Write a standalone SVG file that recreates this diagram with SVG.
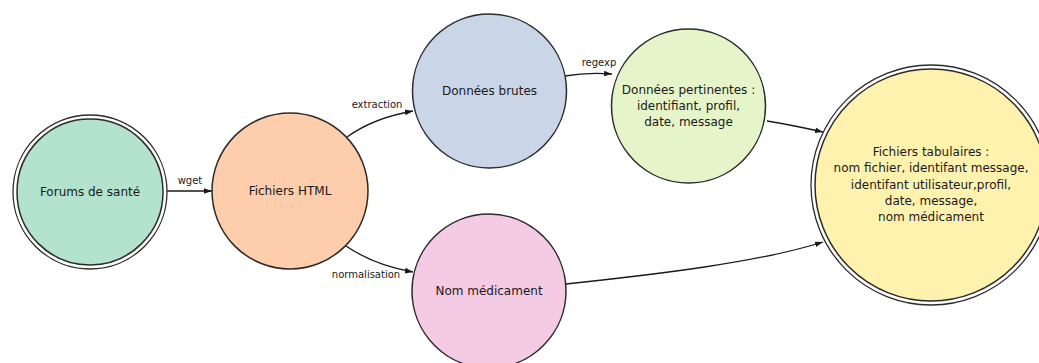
<svg xmlns="http://www.w3.org/2000/svg" width="1039" height="363" viewBox="0 0 1039 363">
<style>
.n{stroke:#2b2b2b;stroke-width:1.5}
.o{fill:none;stroke:#2b2b2b;stroke-width:1.3}
.t{font-family:"DejaVu Sans",sans-serif;font-size:12px;fill:#1a1a1a;text-anchor:middle}
.l{font-family:"DejaVu Sans",sans-serif;font-size:10px;fill:#1a1a1a;text-anchor:middle}
.e{fill:none;stroke:#1a1a1a;stroke-width:1.3;marker-end:url(#a)}
</style>
<defs>
<marker id="a" viewBox="0 0 10 10" refX="10" refY="5" markerWidth="8" markerHeight="8" markerUnits="userSpaceOnUse" orient="auto">
<path d="M0,1.5 L10,5 L0,8.5 Z" fill="#1a1a1a"/>
</marker>
</defs>
<g id="connectors">
<path class="e" d="M167,191 L212,191"/>
<text class="l" x="190" y="184">wget</text>
<path class="e" d="M347,137 C368,122 390,115 413,111"/>
<text class="l" x="377" y="108">extraction</text>
<path class="e" d="M565,76 C582,73 598,73 612,74"/>
<text class="l" x="599" y="66">regexp</text>
<path class="e" d="M346,246 C368,261 390,268 413,272"/>
<text class="l" x="366" y="278">normalisation</text>
<path class="e" d="M767,121 C786,124 805,128 823,132"/>
<path class="e" d="M566,284 C660,274 760,262 823,242"/>
</g>
<g id="forums">
<circle class="o" cx="90" cy="192" r="77"/>
<circle class="n" cx="90" cy="192" r="73" fill="#b3e2cd"/>
<text class="t" x="90" y="196">Forums de santé</text>
</g>
<g id="html">
<circle class="n" cx="290" cy="191" r="78" fill="#fdcdac"/>
<text class="t" x="290" y="195">Fichiers HTML</text>
</g>
<g id="brutes">
<circle class="n" cx="489.5" cy="91" r="77" fill="#cbd5e8"/>
<text class="t" x="489.5" y="95">Données brutes</text>
</g>
<g id="pertinentes">
<circle class="n" cx="688.5" cy="106" r="77" fill="#e6f5c9"/>
<text class="t" x="688.5" y="94">Données pertinentes :</text>
<text class="t" x="688.5" y="110">identifiant, profil,</text>
<text class="t" x="688.5" y="126">date, message</text>
</g>
<g id="medicament">
<circle class="n" cx="489" cy="291" r="77" fill="#f4cae4"/>
<text class="t" x="489" y="295">Nom médicament</text>
</g>
<g id="tabulaires">
<circle class="o" cx="931" cy="185" r="120"/>
<circle class="n" cx="931" cy="185" r="116" fill="#fff2ae"/>
<text class="t" x="931" y="156">Fichiers tabulaires :</text>
<text class="t" x="931" y="172">nom fichier, identifant message,</text>
<text class="t" x="931" y="189">identifant utilisateur,profil,</text>
<text class="t" x="931" y="205">date, message,</text>
<text class="t" x="931" y="221">nom médicament</text>
</g>
</svg>
